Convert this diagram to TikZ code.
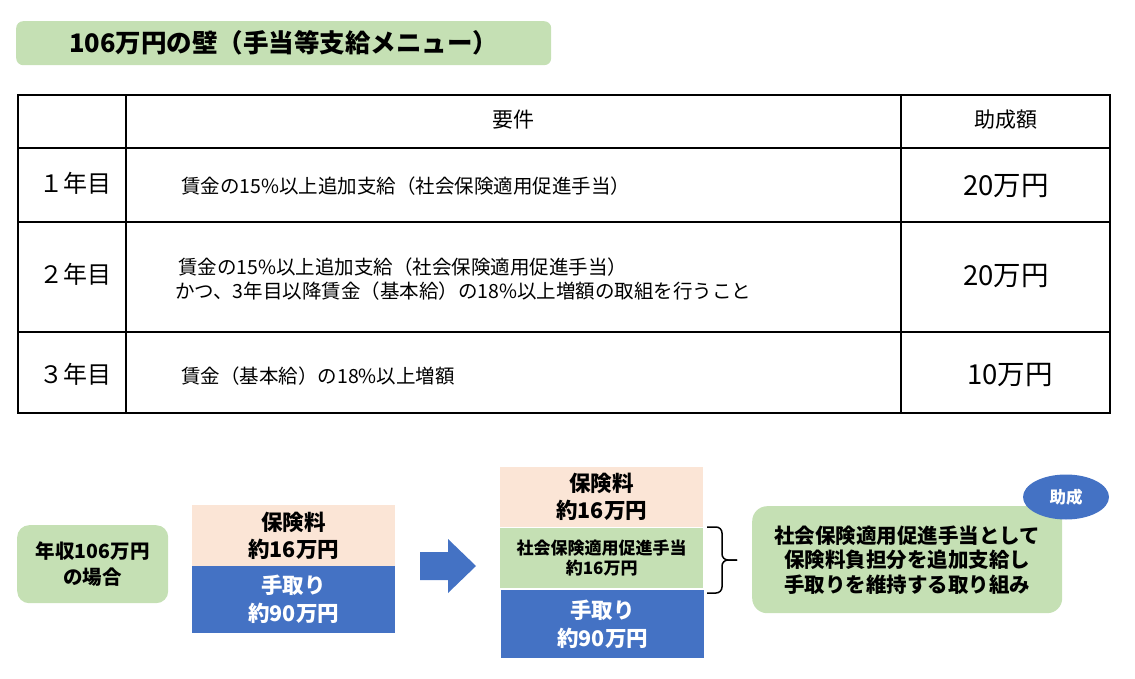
\documentclass[tikz,border=0pt]{standalone}
\usepackage{fontspec}
\setmainfont{Noto Sans CJK JP}
\definecolor{lgreen}{HTML}{C5E0B4}
\definecolor{lpink}{HTML}{FBE5D6}
\definecolor{mblue}{HTML}{4472C4}
\newcommand{\fs}[2]{\fontsize{#1}{#2}\selectfont}
\tikzset{
  greenbox/.style={fill=lgreen, draw=none, rounded corners=#1, inner sep=0pt, align=center},
  stackbox/.style={draw=none, inner sep=0pt, align=center, minimum width=203pt, anchor=north west},
  tline/.style={line width=2.4pt, black},
  vline/.style={line width=1.6pt, black},
  celltxt/.style={inner sep=0pt, anchor=base west, font=\fs{19.5}{24}},
  yeartxt/.style={inner sep=0pt, anchor=base, font=\fs{24}{26}},
  amttxt/.style={inner sep=0pt, anchor=base, font=\fs{27.5}{30}},
  bracestyle/.style={line width=1.5pt, rounded corners=6pt},
}
\begin{document}
\begin{tikzpicture}[x=1pt, y=-1pt]
\useasboundingbox (0,0) rectangle (1135,679);
% title
\node[greenbox=7pt, minimum width=535pt, minimum height=44pt, anchor=north west,
      font=\bfseries\fs{25.5}{28}] (title) at (16,21) {106万円の壁（手当等支給メニュー）};
% table grid
\coordinate (tl) at (18,95);
\coordinate (br) at (1110,413);
\draw[tline] (18,148) -- (1110,148);
\draw[tline] (18,222) -- (1110,222);
\draw[tline] (18,332) -- (1110,332);
\draw[vline] (126,95) -- (126,413);
\draw[vline] (901,95) -- (901,413);
\draw[line width=2.6pt] (tl) rectangle (br);
% header
\node[inner sep=0pt, font=\fs{21}{24}] (h1) at (513,120) {要件};
\node[inner sep=0pt, font=\fs{21}{24}] (h2) at (1006,120) {助成額};
% row labels
\node[yeartxt] (y1) at (75,193) {１年目};
\node[yeartxt] (y2) at (75,283) {２年目};
\node[yeartxt] (y3) at (75,383) {３年目};
% row contents
\node[celltxt] (r1) at (181,194) {賃金の15\%以上追加支給（社会保険適用促進手当）};
\node[celltxt] (r2a) at (178,274) {賃金の15\%以上追加支給（社会保険適用促進手当）};
\node[celltxt] (r2b) at (175,298) {かつ、3年目以降賃金（基本給）の18\%以上増額の取組を行うこと};
\node[celltxt] (r3) at (181,383) {賃金（基本給）の18\%以上増額};
% amounts
\node[amttxt] (a1) at (1006,196) {20万円};
\node[amttxt] (a2) at (1006,285) {20万円};
\node[amttxt] (a3) at (1010,384) {10万円};
% bottom left box
\node[greenbox=12pt, minimum width=151pt, minimum height=78pt, anchor=north west,
      font=\bfseries\fs{19.5}{26}] (case) at (17,525) {年収106万円\\の場合};
% left stack
\node[stackbox, fill=lpink, minimum height=61pt, font=\bfseries\fs{21.5}{27}] (p1) at (192,505) {保険料\\約16万円};
\node[stackbox, fill=mblue, minimum height=67pt, text=white, font=\bfseries\fs{21.5}{28}] (b1) at (192,566) {手取り\\約90万円};
% arrow
\fill[mblue] (420,552) -- (448,552) -- (448,539) -- (476,566) -- (448,593) -- (448,580) -- (420,580) -- cycle;
% right stack
\node[stackbox, fill=lpink, minimum height=60pt, font=\bfseries\fs{21.5}{27}] (p2) at (500,467) {保険料\\約16万円};
\node[stackbox, fill=lgreen, minimum height=60pt, font=\bfseries\fs{17}{20}] (g2) at (500,528) {社会保険適用促進手当\\約16万円};
\node[stackbox, fill=mblue, minimum height=68pt, text=white, font=\bfseries\fs{21.5}{28}] (b2) at (501,590) {手取り\\約90万円};
% brace
\coordinate (bt) at (707,527);
\coordinate (bb) at (707,593);
\coordinate (bm) at (722,560);
\coordinate (btip) at (737,560);
\draw[bracestyle] (bt) -- (722,527) -- (bm) -- (btip);
\draw[bracestyle] (bb) -- (722,593) -- (bm) -- (btip);
% right explanation box
\node[greenbox=15pt, minimum width=310pt, minimum height=107pt, anchor=north west,
      font=\bfseries\fs{20.5}{24.5}] (expl) at (752,506) {社会保険適用促進手当として\\保険料負担分を追加支給し\\手取りを維持する取り組み};
% ellipse
\fill[mblue] (1066,497) ellipse [x radius=43pt, y radius=22.5pt];
\node[inner sep=0pt, text=white, font=\bfseries\fs{16.5}{18}] (sub) at (1066,497) {助成};
\end{tikzpicture}
\end{document}
